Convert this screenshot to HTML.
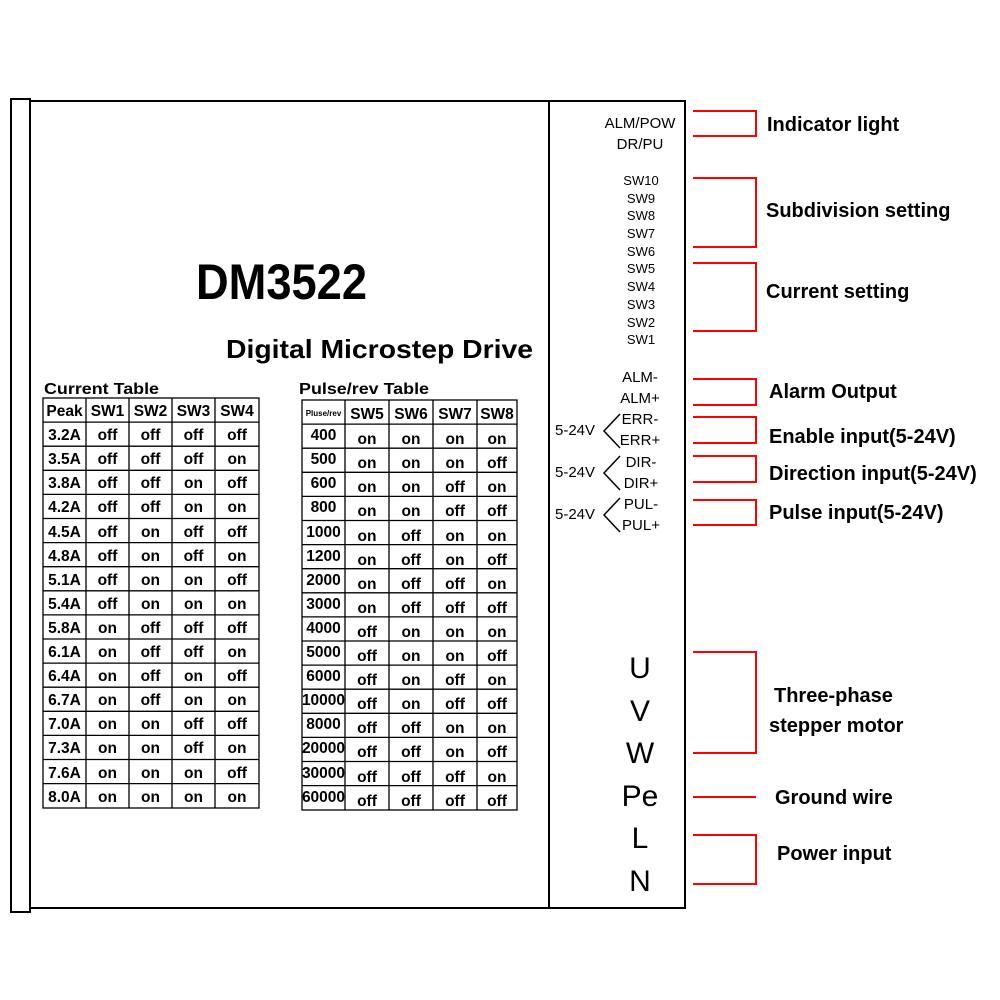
<!DOCTYPE html>
<html><head><meta charset="utf-8"><style>
html,body{margin:0;padding:0;background:#fff;width:1000px;height:1000px;overflow:hidden}
svg{display:block}
text{font-family:"Liberation Sans",sans-serif;fill:#000}
.t{font-weight:bold;font-size:15.5px;text-anchor:middle}
.r{stroke:#f00;stroke-width:2;fill:none}
.pin{font-size:13px;text-anchor:middle}
.lab{font-weight:bold;font-size:20px}
</style></head><body>
<svg width="1000" height="1000" viewBox="0 0 1000 1000">
<rect x="11" y="99" width="19" height="813" fill="none" stroke="#000" stroke-width="2"/>
<rect x="30" y="101" width="655" height="807" fill="none" stroke="#000" stroke-width="2"/>
<line x1="549" y1="101" x2="549" y2="908" stroke="#000" stroke-width="2"/>

<text x="196" y="299" font-size="50" font-weight="bold" textLength="171" lengthAdjust="spacingAndGlyphs">DM3522</text>
<text x="226" y="358" font-size="26" font-weight="bold" textLength="307" lengthAdjust="spacingAndGlyphs">Digital Microstep Drive</text>

<text x="44" y="394" font-size="16" font-weight="bold" textLength="115" lengthAdjust="spacingAndGlyphs">Current Table</text>
<text x="299" y="394" font-size="16" font-weight="bold" textLength="130" lengthAdjust="spacingAndGlyphs">Pulse/rev Table</text>

<!-- current table grid -->
<g stroke="#000" stroke-width="1.3" fill="none">
<rect x="43" y="398" width="216" height="410"/>
<path d="M86 398V808M129 398V808M172 398V808M215 398V808"/>
<path d="M43 422.1H259M43 446.2H259M43 470.3H259M43 494.4H259M43 518.5H259M43 542.6H259M43 566.7H259M43 590.8H259M43 614.9H259M43 639H259M43 663.1H259M43 687.2H259M43 711.3H259M43 735.4H259M43 759.5H259M43 783.6H259"/>
</g>
<g class="t">
<text x="64.5" y="416">Peak</text><text x="107.5" y="416">SW1</text><text x="150.5" y="416">SW2</text><text x="193.5" y="416">SW3</text><text x="237" y="416">SW4</text>
<text x="64.5" y="440">3.2A</text><text x="107.5" y="440">off</text><text x="150.5" y="440">off</text><text x="193.5" y="440">off</text><text x="237" y="440">off</text>
<text x="64.5" y="464">3.5A</text><text x="107.5" y="464">off</text><text x="150.5" y="464">off</text><text x="193.5" y="464">off</text><text x="237" y="464">on</text>
<text x="64.5" y="488">3.8A</text><text x="107.5" y="488">off</text><text x="150.5" y="488">off</text><text x="193.5" y="488">on</text><text x="237" y="488">off</text>
<text x="64.5" y="512">4.2A</text><text x="107.5" y="512">off</text><text x="150.5" y="512">off</text><text x="193.5" y="512">on</text><text x="237" y="512">on</text>
<text x="64.5" y="537">4.5A</text><text x="107.5" y="537">off</text><text x="150.5" y="537">on</text><text x="193.5" y="537">off</text><text x="237" y="537">off</text>
<text x="64.5" y="561">4.8A</text><text x="107.5" y="561">off</text><text x="150.5" y="561">on</text><text x="193.5" y="561">off</text><text x="237" y="561">on</text>
<text x="64.5" y="585">5.1A</text><text x="107.5" y="585">off</text><text x="150.5" y="585">on</text><text x="193.5" y="585">on</text><text x="237" y="585">off</text>
<text x="64.5" y="609">5.4A</text><text x="107.5" y="609">off</text><text x="150.5" y="609">on</text><text x="193.5" y="609">on</text><text x="237" y="609">on</text>
<text x="64.5" y="633">5.8A</text><text x="107.5" y="633">on</text><text x="150.5" y="633">off</text><text x="193.5" y="633">off</text><text x="237" y="633">off</text>
<text x="64.5" y="657">6.1A</text><text x="107.5" y="657">on</text><text x="150.5" y="657">off</text><text x="193.5" y="657">off</text><text x="237" y="657">on</text>
<text x="64.5" y="681">6.4A</text><text x="107.5" y="681">on</text><text x="150.5" y="681">off</text><text x="193.5" y="681">on</text><text x="237" y="681">off</text>
<text x="64.5" y="705">6.7A</text><text x="107.5" y="705">on</text><text x="150.5" y="705">off</text><text x="193.5" y="705">on</text><text x="237" y="705">on</text>
<text x="64.5" y="729">7.0A</text><text x="107.5" y="729">on</text><text x="150.5" y="729">on</text><text x="193.5" y="729">off</text><text x="237" y="729">off</text>
<text x="64.5" y="753">7.3A</text><text x="107.5" y="753">on</text><text x="150.5" y="753">on</text><text x="193.5" y="753">off</text><text x="237" y="753">on</text>
<text x="64.5" y="778">7.6A</text><text x="107.5" y="778">on</text><text x="150.5" y="778">on</text><text x="193.5" y="778">on</text><text x="237" y="778">off</text>
<text x="64.5" y="802">8.0A</text><text x="107.5" y="802">on</text><text x="150.5" y="802">on</text><text x="193.5" y="802">on</text><text x="237" y="802">on</text>
</g>

<!-- pulse table grid -->
<g stroke="#000" stroke-width="1.3" fill="none">
<rect x="302" y="400" width="215" height="410"/>
<path d="M345 400V810M389 400V810M433 400V810M477 400V810"/>
<path d="M302 424.1H517M302 448.2H517M302 472.3H517M302 496.4H517M302 520.5H517M302 544.6H517M302 568.7H517M302 592.8H517M302 616.9H517M302 641H517M302 665.1H517M302 689.2H517M302 713.3H517M302 737.4H517M302 761.5H517M302 785.6H517"/>
</g>
<text x="323.5" y="416" font-size="8" font-weight="bold" text-anchor="middle">Pluse/rev</text>
<g class="t">
<text x="367" y="419">SW5</text><text x="411" y="419">SW6</text><text x="455" y="419">SW7</text><text x="497" y="419">SW8</text>
<text x="323.5" y="440">400</text><text x="367" y="444">on</text><text x="411" y="444">on</text><text x="455" y="444">on</text><text x="497" y="444">on</text>
<text x="323.5" y="464">500</text><text x="367" y="468">on</text><text x="411" y="468">on</text><text x="455" y="468">on</text><text x="497" y="468">off</text>
<text x="323.5" y="488">600</text><text x="367" y="492">on</text><text x="411" y="492">on</text><text x="455" y="492">off</text><text x="497" y="492">on</text>
<text x="323.5" y="512">800</text><text x="367" y="516">on</text><text x="411" y="516">on</text><text x="455" y="516">off</text><text x="497" y="516">off</text>
<text x="323.5" y="537">1000</text><text x="367" y="541">on</text><text x="411" y="541">off</text><text x="455" y="541">on</text><text x="497" y="541">on</text>
<text x="323.5" y="561">1200</text><text x="367" y="565">on</text><text x="411" y="565">off</text><text x="455" y="565">on</text><text x="497" y="565">off</text>
<text x="323.5" y="585">2000</text><text x="367" y="589">on</text><text x="411" y="589">off</text><text x="455" y="589">off</text><text x="497" y="589">on</text>
<text x="323.5" y="609">3000</text><text x="367" y="613">on</text><text x="411" y="613">off</text><text x="455" y="613">off</text><text x="497" y="613">off</text>
<text x="323.5" y="633">4000</text><text x="367" y="637">off</text><text x="411" y="637">on</text><text x="455" y="637">on</text><text x="497" y="637">on</text>
<text x="323.5" y="657">5000</text><text x="367" y="661">off</text><text x="411" y="661">on</text><text x="455" y="661">on</text><text x="497" y="661">off</text>
<text x="323.5" y="681">6000</text><text x="367" y="685">off</text><text x="411" y="685">on</text><text x="455" y="685">off</text><text x="497" y="685">on</text>
<text x="323.5" y="705">10000</text><text x="367" y="709">off</text><text x="411" y="709">on</text><text x="455" y="709">off</text><text x="497" y="709">off</text>
<text x="323.5" y="729">8000</text><text x="367" y="733">off</text><text x="411" y="733">off</text><text x="455" y="733">on</text><text x="497" y="733">on</text>
<text x="323.5" y="753">20000</text><text x="367" y="757">off</text><text x="411" y="757">off</text><text x="455" y="757">on</text><text x="497" y="757">off</text>
<text x="323.5" y="778">30000</text><text x="367" y="782">off</text><text x="411" y="782">off</text><text x="455" y="782">off</text><text x="497" y="782">on</text>
<text x="323.5" y="802">60000</text><text x="367" y="806">off</text><text x="411" y="806">off</text><text x="455" y="806">off</text><text x="497" y="806">off</text>
</g>

<!-- right panel pins -->
<text x="640" y="128" font-size="15" text-anchor="middle">ALM/POW</text>
<text x="640" y="149" font-size="15" text-anchor="middle">DR/PU</text>
<g class="pin">
<text x="641" y="185">SW10</text><text x="641" y="203">SW9</text><text x="641" y="220">SW8</text><text x="641" y="238">SW7</text><text x="641" y="256">SW6</text>
<text x="641" y="273">SW5</text><text x="641" y="291">SW4</text><text x="641" y="309">SW3</text><text x="641" y="327">SW2</text><text x="641" y="344">SW1</text>
</g>
<g font-size="15" text-anchor="middle">
<text x="640" y="382">ALM-</text><text x="640" y="403">ALM+</text>
<text x="640" y="424">ERR-</text><text x="640" y="445">ERR+</text>
<text x="641" y="467">DIR-</text><text x="641" y="488">DIR+</text>
<text x="641" y="509">PUL-</text><text x="641" y="530">PUL+</text>
</g>
<g font-size="15">
<text x="555" y="435">5-24V</text><text x="555" y="477">5-24V</text><text x="555" y="519">5-24V</text>
</g>
<g stroke="#000" stroke-width="1.5" fill="none">
<path d="M620 414L604 431L620 448"/>
<path d="M620 456L604 473L620 490"/>
<path d="M620 498L604 515L620 532"/>
</g>
<g font-size="30" text-anchor="middle">
<text x="640" y="678">U</text><text x="640" y="721">V</text><text x="640" y="763">W</text>
<text x="640" y="806">Pe</text><text x="640" y="848">L</text><text x="640" y="891">N</text>
</g>

<!-- red brackets -->
<path class="r" d="M693 111H756V136H693"/>
<path class="r" d="M693 178H756V247H693"/>
<path class="r" d="M693 263H756V331H693"/>
<path class="r" d="M693 379H756V405H693"/>
<path class="r" d="M693 417H756V443H693"/>
<path class="r" d="M693 456H756V482H693"/>
<path class="r" d="M693 500H756V525H693"/>
<path class="r" d="M693 652H756V753H693"/>
<path class="r" d="M693 797H756"/>
<path class="r" d="M693 835H756V884H693"/>

<g class="lab">
<text x="767" y="131">Indicator light</text>
<text x="766" y="217">Subdivision setting</text>
<text x="766" y="298">Current setting</text>
<text x="769" y="398">Alarm Output</text>
<text x="769" y="443">Enable input(5-24V)</text>
<text x="769" y="480">Direction input(5-24V)</text>
<text x="769" y="519">Pulse input(5-24V)</text>
<text x="774" y="702">Three-phase</text>
<text x="769" y="732">stepper motor</text>
<text x="775" y="804">Ground wire</text>
<text x="777" y="860">Power input</text>
</g>
</svg>
</body></html>
